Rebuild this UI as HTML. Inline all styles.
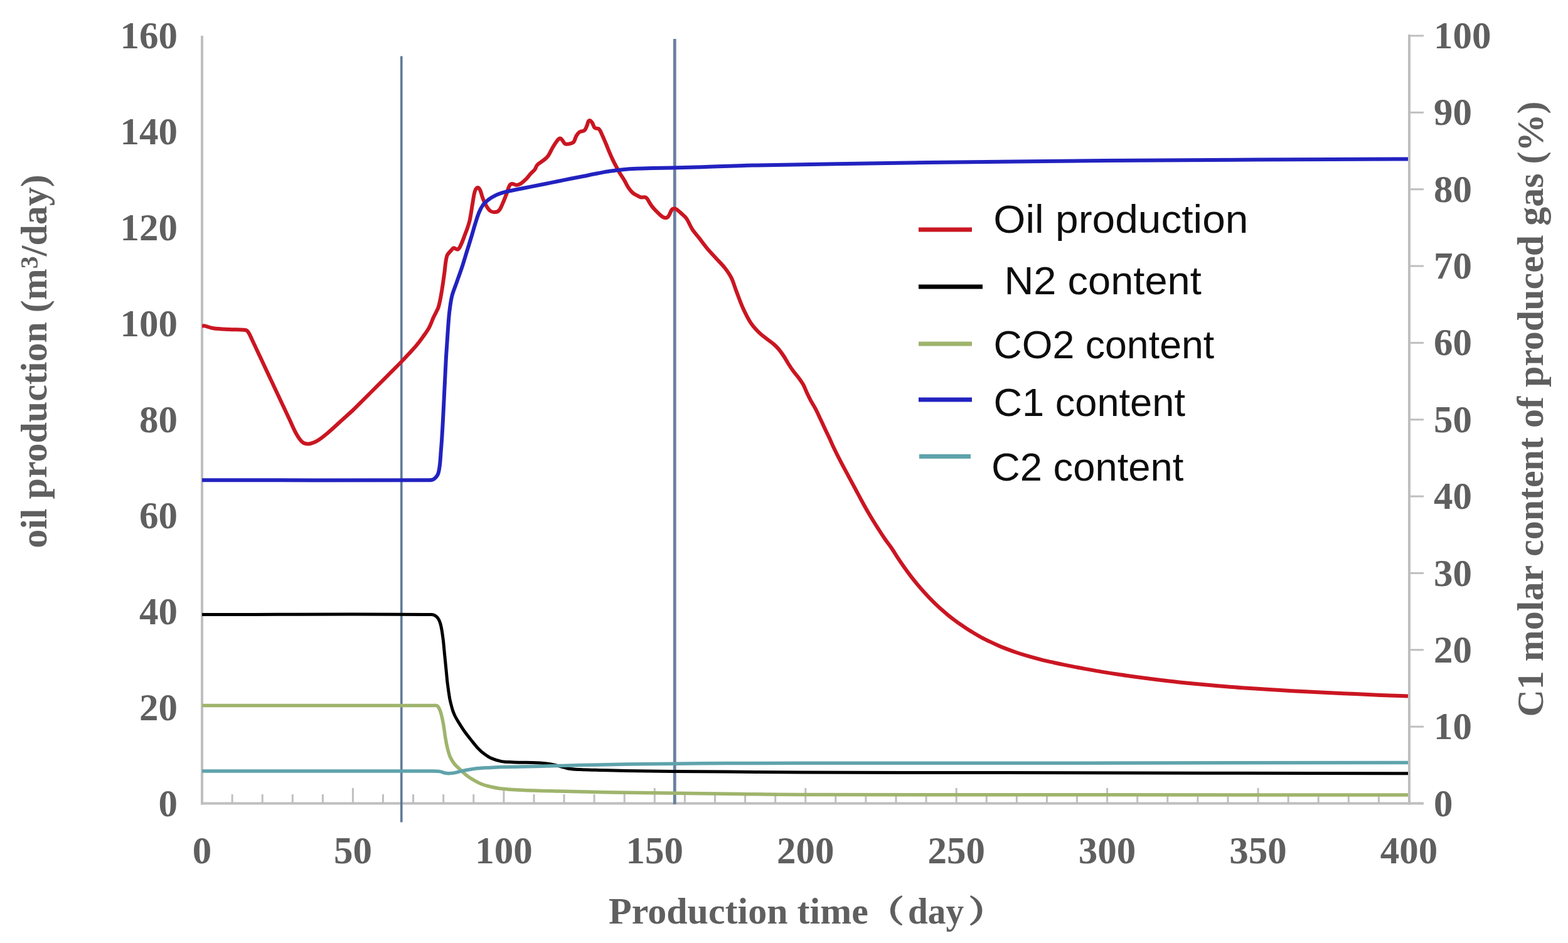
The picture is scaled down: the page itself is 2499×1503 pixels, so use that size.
<!DOCTYPE html>
<html><head><meta charset="utf-8"><title>Production chart</title>
<style>
html,body{margin:0;padding:0;background:#fff;}
svg{display:block;}
.t{font-family:"Liberation Serif","Noto Serif CJK SC",serif;font-weight:bold;fill:#5e5e5e;}
.lg{font-family:"Liberation Sans","DejaVu Sans",sans-serif;fill:#111;}
</style></head><body>
<svg width="2499" height="1503" viewBox="0 0 2499 1503">
<defs><filter id="soft" x="0" y="0" width="2499" height="1503" filterUnits="userSpaceOnUse"><feGaussianBlur stdDeviation="0.6"/></filter></defs>
<rect width="2499" height="1503" fill="#fff"/>
<g filter="url(#soft)">

<g stroke="#bfbfbf" stroke-width="4" fill="none">
<line x1="322" y1="57" x2="322" y2="1282.5"/>
<line x1="320" y1="1280.5" x2="2269" y2="1280.5"/>
<line x1="2246" y1="55" x2="2246" y2="1282.5"/>
</g>
<g stroke="#bfbfbf" stroke-width="3">
<line x1="370.1" y1="1266" x2="370.1" y2="1280"/>
<line x1="418.2" y1="1266" x2="418.2" y2="1280"/>
<line x1="466.3" y1="1266" x2="466.3" y2="1280"/>
<line x1="514.4" y1="1266" x2="514.4" y2="1280"/>
<line x1="562.4" y1="1256" x2="562.4" y2="1280"/>
<line x1="610.5" y1="1266" x2="610.5" y2="1280"/>
<line x1="658.6" y1="1266" x2="658.6" y2="1280"/>
<line x1="706.7" y1="1266" x2="706.7" y2="1280"/>
<line x1="754.8" y1="1266" x2="754.8" y2="1280"/>
<line x1="802.9" y1="1256" x2="802.9" y2="1280"/>
<line x1="851.0" y1="1266" x2="851.0" y2="1280"/>
<line x1="899.0" y1="1266" x2="899.0" y2="1280"/>
<line x1="947.1" y1="1266" x2="947.1" y2="1280"/>
<line x1="995.2" y1="1266" x2="995.2" y2="1280"/>
<line x1="1043.3" y1="1256" x2="1043.3" y2="1280"/>
<line x1="1091.4" y1="1266" x2="1091.4" y2="1280"/>
<line x1="1139.5" y1="1266" x2="1139.5" y2="1280"/>
<line x1="1187.6" y1="1266" x2="1187.6" y2="1280"/>
<line x1="1235.7" y1="1266" x2="1235.7" y2="1280"/>
<line x1="1283.8" y1="1256" x2="1283.8" y2="1280"/>
<line x1="1331.8" y1="1266" x2="1331.8" y2="1280"/>
<line x1="1379.9" y1="1266" x2="1379.9" y2="1280"/>
<line x1="1428.0" y1="1266" x2="1428.0" y2="1280"/>
<line x1="1476.1" y1="1266" x2="1476.1" y2="1280"/>
<line x1="1524.2" y1="1256" x2="1524.2" y2="1280"/>
<line x1="1572.3" y1="1266" x2="1572.3" y2="1280"/>
<line x1="1620.4" y1="1266" x2="1620.4" y2="1280"/>
<line x1="1668.5" y1="1266" x2="1668.5" y2="1280"/>
<line x1="1716.5" y1="1266" x2="1716.5" y2="1280"/>
<line x1="1764.6" y1="1256" x2="1764.6" y2="1280"/>
<line x1="1812.7" y1="1266" x2="1812.7" y2="1280"/>
<line x1="1860.8" y1="1266" x2="1860.8" y2="1280"/>
<line x1="1908.9" y1="1266" x2="1908.9" y2="1280"/>
<line x1="1957.0" y1="1266" x2="1957.0" y2="1280"/>
<line x1="2005.1" y1="1256" x2="2005.1" y2="1280"/>
<line x1="2053.2" y1="1266" x2="2053.2" y2="1280"/>
<line x1="2101.2" y1="1266" x2="2101.2" y2="1280"/>
<line x1="2149.3" y1="1266" x2="2149.3" y2="1280"/>
<line x1="2197.4" y1="1266" x2="2197.4" y2="1280"/>
<line x1="2246" y1="1158.2" x2="2269" y2="1158.2"/>
<line x1="2246" y1="1035.8" x2="2269" y2="1035.8"/>
<line x1="2246" y1="913.5" x2="2269" y2="913.5"/>
<line x1="2246" y1="791.1" x2="2269" y2="791.1"/>
<line x1="2246" y1="668.8" x2="2269" y2="668.8"/>
<line x1="2246" y1="546.4" x2="2269" y2="546.4"/>
<line x1="2246" y1="424.0" x2="2269" y2="424.0"/>
<line x1="2246" y1="301.7" x2="2269" y2="301.7"/>
<line x1="2246" y1="179.3" x2="2269" y2="179.3"/>
<line x1="2246" y1="57.0" x2="2269" y2="57.0"/>
</g>
<rect x="638" y="89.5" width="3.6" height="1221" fill="#5f7899"/>
<rect x="1072.9" y="62" width="4.8" height="1220" fill="#6a81a1"/>
<path d="M322.0,519.5 C323.4,519.5 324.8,519.1 326.1,519.4 C330.9,520.4 335.4,522.6 340.2,523.3 C348.4,524.5 356.7,524.6 365.0,525.0 C372.7,525.4 380.3,525.3 388.0,525.8 C389.9,525.9 392.0,525.9 393.5,527.0 C395.4,528.3 396.4,530.5 397.5,532.5 C399.9,537.0 401.8,541.7 404.0,546.3 C406.3,551.3 408.7,556.2 411.0,561.2 C414.3,568.3 417.7,575.4 421.0,582.5 C424.4,589.7 427.8,597.0 431.2,604.2 C434.6,611.4 437.9,618.6 441.3,625.8 C444.7,633.0 448.0,640.1 451.4,647.3 C454.8,654.5 458.1,661.6 461.5,668.8 C464.9,675.9 467.7,683.3 471.6,690.2 C474.5,695.3 477.3,700.6 481.7,704.4 C484.4,706.7 488.3,707.7 491.8,707.4 C496.8,707.0 501.6,704.8 506.0,702.3 C511.8,699.0 516.9,694.5 522.1,690.2 C529.1,684.4 535.6,678.1 542.3,672.0 C549.0,665.9 555.9,660.0 562.5,653.8 C569.4,647.2 576.0,640.3 582.8,633.6 C589.5,626.9 596.3,620.1 603.0,613.4 C609.7,606.7 616.5,599.9 623.2,593.2 C628.6,587.8 634.0,582.5 639.3,577.0 C643.4,572.7 647.5,568.4 651.5,564.0 C655.6,559.6 659.8,555.3 663.6,550.7 C667.3,546.3 670.7,541.7 674.0,537.0 C677.4,532.2 681.0,527.6 683.8,522.4 C686.6,517.2 688.4,511.4 690.8,506.0 C693.4,500.3 697.0,495.0 698.9,489.0 C701.5,480.6 702.7,471.7 704.2,463.0 C705.8,453.7 706.9,444.3 708.3,435.0 C709.6,426.0 709.7,416.7 712.3,408.0 C713.4,404.4 716.7,401.9 719.1,399.0 C720.3,397.6 721.3,395.6 723.1,395.3 C725.4,395.0 727.8,398.5 729.9,397.4 C732.9,395.7 733.8,391.7 735.3,388.6 C737.4,384.2 738.9,379.6 740.6,375.1 C742.0,371.5 743.5,368.0 744.7,364.3 C746.2,359.9 747.7,355.5 748.7,350.9 C750.4,342.9 751.4,334.7 752.8,326.6 C754.1,319.4 754.7,312.0 756.8,305.0 C757.5,302.7 758.6,299.8 760.9,299.0 C762.5,298.5 764.1,300.8 764.9,302.3 C766.9,306.1 767.4,310.5 768.9,314.5 C770.5,318.6 772.1,322.8 774.3,326.6 C776.2,330.0 778.0,333.6 781.1,336.0 C783.3,337.7 786.4,338.3 789.2,338.1 C791.7,337.9 794.3,336.6 795.9,334.7 C798.5,331.6 799.7,327.6 801.3,323.9 C803.3,319.5 805.0,314.9 806.7,310.4 C808.6,305.5 809.6,300.2 812.1,295.6 C812.9,294.2 814.5,293.0 816.1,292.9 C818.5,292.7 820.5,294.9 822.9,294.9 C825.2,294.9 827.6,294.1 829.6,292.9 C832.6,291.1 835.2,288.7 837.7,286.2 C840.6,283.3 843.0,279.8 845.8,276.7 C847.9,274.4 850.6,272.5 852.5,270.0 C854.1,267.9 854.4,264.9 856.2,263.0 C859.3,259.8 863.6,257.8 867.0,254.9 C869.4,252.9 871.9,250.8 873.7,248.2 C876.4,244.4 878.0,240.0 880.4,236.0 C882.5,232.4 884.6,228.6 887.2,225.3 C888.7,223.4 890.2,220.9 892.6,220.5 C894.3,220.2 895.4,222.6 896.6,223.9 C898.1,225.6 898.6,228.3 900.6,229.3 C902.6,230.3 905.2,229.7 907.4,229.3 C909.8,228.8 912.5,228.4 914.1,226.6 C916.4,224.0 916.5,220.1 918.2,217.2 C919.7,214.7 921.2,212.1 923.6,210.4 C925.9,208.8 929.5,209.6 931.6,207.7 C933.9,205.7 934.4,202.3 935.7,199.6 C936.9,197.2 936.6,193.4 939.0,192.2 C940.8,191.3 942.6,194.0 943.8,195.6 C945.6,198.0 945.6,201.6 947.8,203.7 C949.5,205.3 952.9,204.0 954.6,205.7 C957.3,208.4 958.3,212.4 960.0,215.8 C961.9,219.8 963.6,223.9 965.3,228.0 C967.2,232.4 968.8,237.0 970.7,241.4 C972.4,245.5 974.2,249.6 976.1,253.6 C977.8,257.2 979.6,260.8 981.5,264.3 C983.7,268.4 985.8,272.5 988.2,276.5 C990.3,280.1 992.9,283.6 995.0,287.2 C997.4,291.2 999.1,295.5 1001.7,299.4 C1003.7,302.3 1005.9,305.1 1008.5,307.5 C1010.4,309.2 1012.9,310.3 1015.2,311.5 C1017.4,312.6 1019.6,314.0 1022.0,314.5 C1024.4,315.0 1027.3,313.3 1029.4,314.7 C1032.4,316.7 1033.5,320.6 1035.5,323.5 C1037.0,325.7 1038.3,328.0 1040.0,330.0 C1042.2,332.7 1044.5,335.3 1047.0,337.6 C1050.4,340.7 1053.5,344.5 1057.7,346.4 C1059.8,347.4 1062.8,347.3 1064.5,345.7 C1067.8,342.5 1068.0,337.0 1071.2,333.6 C1072.4,332.3 1075.0,332.1 1076.6,332.9 C1080.7,334.9 1083.9,338.5 1087.4,341.6 C1089.8,343.7 1092.3,345.8 1094.1,348.4 C1097.8,353.9 1100.0,360.3 1103.6,365.9 C1106.7,370.7 1110.8,374.9 1114.3,379.4 C1118.8,385.2 1123.1,391.2 1127.8,396.9 C1132.1,402.0 1136.8,406.8 1141.3,411.7 C1145.8,416.6 1150.7,421.2 1154.8,426.5 C1158.8,431.6 1162.6,436.9 1165.5,442.7 C1168.7,448.9 1170.4,455.8 1172.9,462.3 C1176.7,472.1 1180.0,482.0 1184.3,491.5 C1188.1,499.8 1192.1,508.1 1197.2,515.7 C1201.3,521.7 1206.4,527.0 1211.8,531.9 C1218.5,538.0 1226.3,542.8 1233.2,548.6 C1235.9,550.9 1238.5,553.5 1240.8,556.2 C1243.9,559.9 1246.7,563.9 1249.4,568.0 C1252.1,572.1 1254.3,576.4 1256.9,580.5 C1259.3,584.3 1261.8,588.1 1264.5,591.7 C1267.2,595.4 1270.4,598.8 1273.1,602.5 C1275.8,606.2 1278.4,609.8 1280.6,613.8 C1282.7,617.7 1284.1,622.0 1286.0,626.0 C1288.1,630.4 1290.2,634.8 1292.5,639.1 C1294.9,643.5 1297.7,647.7 1300.0,652.1 C1302.7,657.3 1305.1,662.7 1307.6,668.0 C1310.3,673.7 1312.8,679.3 1315.5,685.0 C1317.6,689.5 1319.9,694.0 1322.0,698.5 C1324.1,703.0 1325.9,707.6 1328.0,712.0 C1331.9,720.1 1336.0,728.2 1340.1,736.2 C1344.0,743.8 1348.2,751.3 1352.2,758.8 C1356.3,766.4 1360.3,773.9 1364.4,781.5 C1368.4,789.0 1372.4,796.6 1376.5,804.0 C1380.4,811.1 1384.4,818.1 1388.6,825.0 C1392.5,831.6 1396.7,838.0 1400.8,844.5 C1404.1,849.7 1407.5,854.9 1411.0,860.0 C1414.3,864.7 1418.0,869.2 1421.2,874.0 C1424.7,879.1 1427.8,884.5 1431.2,889.7 C1434.4,894.6 1437.8,899.5 1441.2,904.3 C1444.5,908.9 1447.8,913.4 1451.2,917.9 C1454.4,922.1 1457.8,926.3 1461.2,930.4 C1464.5,934.4 1467.8,938.3 1471.2,942.1 C1474.5,945.8 1477.8,949.4 1481.2,952.9 C1484.5,956.3 1487.8,959.6 1491.2,962.9 C1494.5,966.0 1497.8,969.1 1501.2,972.1 C1504.5,975.0 1507.8,977.8 1511.2,980.6 C1514.5,983.3 1517.8,985.9 1521.2,988.4 C1524.5,990.9 1527.8,993.3 1531.2,995.6 C1534.5,997.9 1537.8,1000.1 1541.2,1002.3 C1544.5,1004.4 1547.8,1006.5 1551.2,1008.5 C1554.5,1010.5 1557.8,1012.4 1561.2,1014.3 C1564.5,1016.1 1567.8,1017.9 1571.2,1019.6 C1574.5,1021.3 1577.8,1022.8 1581.2,1024.4 C1584.5,1025.9 1587.8,1027.4 1591.2,1028.9 C1594.1,1030.2 1597.0,1031.5 1600.0,1032.6 C1606.6,1035.2 1613.3,1037.7 1620.0,1040.0 C1626.6,1042.2 1633.3,1044.3 1640.0,1046.2 C1646.6,1048.1 1653.3,1049.9 1660.0,1051.6 C1666.6,1053.3 1673.3,1054.7 1680.0,1056.2 C1686.7,1057.7 1693.3,1059.0 1700.0,1060.4 C1706.7,1061.7 1713.3,1063.0 1720.0,1064.3 C1726.7,1065.5 1733.3,1066.7 1740.0,1067.9 C1746.7,1069.1 1753.3,1070.3 1760.0,1071.4 C1766.7,1072.5 1773.3,1073.5 1780.0,1074.5 C1786.7,1075.5 1793.3,1076.6 1800.0,1077.5 C1813.3,1079.3 1826.7,1081.1 1840.0,1082.8 C1853.3,1084.4 1866.7,1086.0 1880.0,1087.4 C1893.3,1088.8 1906.7,1090.1 1920.0,1091.3 C1933.3,1092.5 1946.7,1093.6 1960.0,1094.7 C1973.3,1095.7 1986.7,1096.7 2000.0,1097.6 C2013.3,1098.5 2026.7,1099.3 2040.0,1100.1 C2053.3,1100.9 2066.7,1101.6 2080.0,1102.3 C2093.3,1103.0 2106.7,1103.7 2120.0,1104.3 C2133.3,1104.9 2146.7,1105.5 2160.0,1106.1 C2173.3,1106.7 2186.7,1107.3 2200.0,1107.9 C2214.7,1108.5 2229.3,1109.0 2244.0,1109.6" fill="none" stroke="#ca1420" stroke-width="6" stroke-linejoin="round" stroke-linecap="butt"/>
<path d="M322.0,979.6 C443.7,979.6 565.5,978.3 687.2,979.6 C690.6,979.6 694.2,981.3 696.6,983.7 C699.4,986.6 700.9,990.6 702.0,994.5 C704.1,1002.0 705.0,1009.7 706.0,1017.4 C707.2,1026.3 707.8,1035.3 708.7,1044.3 C709.6,1053.3 710.5,1062.3 711.4,1071.3 C712.0,1077.5 712.5,1083.8 713.3,1090.0 C714.2,1097.2 715.2,1104.4 716.4,1111.6 C717.0,1115.3 717.9,1118.9 718.8,1122.5 C719.7,1126.1 720.6,1129.6 721.8,1133.1 C722.9,1136.3 724.3,1139.5 725.8,1142.5 C727.2,1145.2 728.8,1147.8 730.4,1150.4 C733.6,1155.5 736.7,1160.6 740.1,1165.5 C743.5,1170.3 747.2,1174.9 750.9,1179.5 C754.4,1183.9 757.7,1188.4 761.6,1192.4 C764.9,1195.9 768.5,1199.2 772.4,1202.1 C775.8,1204.6 779.3,1207.0 783.2,1208.6 C788.4,1210.8 793.8,1212.5 799.4,1213.6 C804.7,1214.6 810.1,1214.5 815.5,1214.8 C820.3,1215.1 825.2,1215.1 830.0,1215.2 C838.3,1215.4 846.7,1215.4 855.0,1215.8 C861.7,1216.1 868.4,1216.5 875.0,1217.5 C881.1,1218.4 887.0,1220.0 893.0,1221.5 C897.7,1222.6 902.2,1224.5 907.0,1225.3 C912.9,1226.2 919.0,1226.3 925.0,1226.6 C933.0,1227.0 941.0,1227.1 949.0,1227.3 C965.2,1227.7 981.4,1228.3 997.6,1228.6 C1023.4,1229.1 1049.2,1229.3 1075.0,1229.5 C1103.3,1229.7 1131.7,1229.8 1160.0,1230.0 C1200.0,1230.3 1240.0,1230.9 1280.0,1231.0 C1386.7,1231.4 1493.3,1231.4 1600.0,1231.6 C1814.7,1232.0 2029.3,1232.4 2244.0,1232.8" fill="none" stroke="#000000" stroke-width="5" stroke-linejoin="round" stroke-linecap="butt"/>
<path d="M322.0,1124.5 C444.7,1124.5 567.3,1124.3 690.0,1124.5 C692.3,1124.5 695.2,1123.7 697.0,1125.2 C699.9,1127.7 701.1,1131.7 702.3,1135.3 C704.4,1141.6 705.5,1148.2 706.7,1154.7 C708.0,1161.9 708.7,1169.1 709.9,1176.3 C710.8,1181.7 711.8,1187.1 713.1,1192.4 C714.3,1197.1 715.5,1201.9 717.4,1206.4 C719.1,1210.3 721.3,1213.9 723.9,1217.2 C726.4,1220.4 729.6,1223.0 732.5,1225.8 C736.0,1229.1 739.5,1232.6 743.3,1235.6 C747.4,1238.8 751.8,1241.6 756.3,1244.2 C759.7,1246.2 763.3,1248.0 767.0,1249.5 C770.6,1250.9 774.3,1252.1 778.0,1253.0 C784.9,1254.6 791.8,1256.2 798.8,1257.0 C809.4,1258.2 820.1,1258.7 830.8,1259.2 C850.5,1260.1 870.3,1260.5 890.0,1261.0 C920.0,1261.8 950.0,1262.5 980.0,1263.0 C1046.7,1264.0 1113.3,1264.7 1180.0,1265.5 C1213.3,1265.9 1246.7,1266.5 1280.0,1266.5 C1601.3,1267.0 1922.7,1266.8 2244.0,1267.0" fill="none" stroke="#9fb46c" stroke-width="5.5" stroke-linejoin="round" stroke-linecap="butt"/>
<path d="M322.0,765.3 C441.3,765.3 560.7,765.6 680.0,765.2 C683.6,765.2 687.8,766.0 690.8,764.0 C694.6,761.5 697.8,757.4 698.9,753.0 C701.9,741.3 701.8,729.0 702.9,717.0 C704.1,703.5 704.8,689.9 705.6,676.3 C706.6,658.3 707.4,640.4 708.3,622.4 C709.2,604.5 710.0,586.5 711.0,568.6 C711.8,555.1 712.7,541.6 713.7,528.1 C714.5,517.3 715.1,506.5 716.4,495.8 C717.4,487.7 718.4,479.5 720.4,471.6 C722.1,464.6 725.1,457.9 727.5,451.0 C730.5,442.3 733.7,433.7 736.6,425.0 C739.4,416.4 741.9,407.7 744.6,399.0 C746.9,391.7 749.2,384.3 751.4,377.0 C753.3,370.8 754.9,364.6 756.8,358.5 C758.9,351.8 760.8,345.0 763.5,338.5 C765.2,334.3 767.2,330.3 769.8,326.6 C771.8,323.9 774.4,321.7 777.0,319.5 C779.2,317.6 781.5,316.0 784.0,314.5 C787.2,312.6 790.5,310.9 794.0,309.5 C797.7,308.0 801.5,306.8 805.3,305.8 C812.1,304.1 819.1,302.9 826.0,301.5 C833.0,300.1 840.0,298.8 847.0,297.4 C854.0,296.0 861.0,294.6 868.0,293.2 C875.0,291.8 881.9,290.4 888.9,289.0 C895.8,287.6 902.8,286.2 909.7,284.8 C916.7,283.4 923.6,282.1 930.6,280.7 C937.6,279.3 944.5,277.8 951.5,276.5 C958.5,275.2 965.4,273.8 972.4,272.8 C979.2,271.8 986.1,271.0 993.0,270.3 C1000.1,269.6 1007.1,269.1 1014.2,268.8 C1022.8,268.4 1031.4,268.2 1040.0,268.0 C1060.0,267.5 1080.0,267.3 1100.0,266.8 C1133.3,265.9 1166.7,264.3 1200.0,263.6 C1293.3,261.7 1386.7,260.3 1480.0,259.0 C1573.3,257.8 1666.7,256.9 1760.0,256.1 C1840.0,255.4 1920.0,254.9 2000.0,254.5 C2081.3,254.1 2162.7,253.8 2244.0,253.5" fill="none" stroke="#2222c0" stroke-width="6" stroke-linejoin="round" stroke-linecap="butt"/>
<path d="M322.0,1229.0 C444.7,1229.0 567.3,1228.8 690.0,1229.0 C693.7,1229.0 697.4,1229.0 701.0,1229.6 C703.8,1230.0 706.3,1231.5 709.0,1232.0 C711.6,1232.5 714.3,1232.7 717.0,1232.6 C719.7,1232.5 722.4,1232.1 725.0,1231.6 C728.3,1231.0 731.4,1229.8 734.7,1229.1 C741.9,1227.7 749.0,1226.2 756.3,1225.3 C763.4,1224.4 770.6,1224.1 777.8,1223.7 C785.0,1223.2 792.2,1222.8 799.4,1222.6 C809.6,1222.3 819.8,1222.3 830.0,1222.1 C846.7,1221.7 863.3,1221.3 880.0,1220.8 C895.0,1220.4 910.0,1219.9 925.0,1219.5 C950.0,1218.9 975.0,1218.4 1000.0,1218.0 C1025.0,1217.6 1050.0,1217.4 1075.0,1217.2 C1103.3,1216.9 1131.7,1216.6 1160.0,1216.5 C1200.0,1216.3 1240.0,1216.2 1280.0,1216.2 C1393.3,1216.2 1506.7,1216.4 1620.0,1216.3 C1828.0,1216.1 2036.0,1215.8 2244.0,1215.5" fill="none" stroke="#5ea3ac" stroke-width="5.5" stroke-linejoin="round" stroke-linecap="butt"/>
<text class="t" x="283" y="1300.5" text-anchor="end" font-size="61">0</text>
<text class="t" x="283" y="1147.6" text-anchor="end" font-size="61">20</text>
<text class="t" x="283" y="994.6" text-anchor="end" font-size="61">40</text>
<text class="t" x="283" y="841.7" text-anchor="end" font-size="61">60</text>
<text class="t" x="283" y="688.8" text-anchor="end" font-size="61">80</text>
<text class="t" x="283" y="535.8" text-anchor="end" font-size="61">100</text>
<text class="t" x="283" y="382.9" text-anchor="end" font-size="61">120</text>
<text class="t" x="283" y="229.9" text-anchor="end" font-size="61">140</text>
<text class="t" x="283" y="77.0" text-anchor="end" font-size="61">160</text>
<text class="t" x="2285" y="1300.5" font-size="61">0</text>
<text class="t" x="2285" y="1178.2" font-size="61">10</text>
<text class="t" x="2285" y="1055.8" font-size="61">20</text>
<text class="t" x="2285" y="933.5" font-size="61">30</text>
<text class="t" x="2285" y="811.1" font-size="61">40</text>
<text class="t" x="2285" y="688.8" font-size="61">50</text>
<text class="t" x="2285" y="566.4" font-size="61">60</text>
<text class="t" x="2285" y="444.0" font-size="61">70</text>
<text class="t" x="2285" y="321.7" font-size="61">80</text>
<text class="t" x="2285" y="199.3" font-size="61">90</text>
<text class="t" x="2285" y="77.0" font-size="61">100</text>
<text class="t" x="322.0" y="1376" text-anchor="middle" font-size="61">0</text>
<text class="t" x="562.4" y="1376" text-anchor="middle" font-size="61">50</text>
<text class="t" x="802.9" y="1376" text-anchor="middle" font-size="61">100</text>
<text class="t" x="1043.3" y="1376" text-anchor="middle" font-size="61">150</text>
<text class="t" x="1283.8" y="1376" text-anchor="middle" font-size="61">200</text>
<text class="t" x="1524.2" y="1376" text-anchor="middle" font-size="61">250</text>
<text class="t" x="1764.6" y="1376" text-anchor="middle" font-size="61">300</text>
<text class="t" x="2005.1" y="1376" text-anchor="middle" font-size="61">350</text>
<text class="t" x="2245.5" y="1376" text-anchor="middle" font-size="61">400</text>
<text class="t" x="970" y="1472" font-size="60">Production time</text>
<text class="t" transform="translate(1382,1470) scale(1.2,1)" font-size="49" stroke="#5e5e5e" stroke-width="1.4">（</text>
<text class="t" x="1447" y="1472" font-size="60" textLength="89" lengthAdjust="spacingAndGlyphs">day</text>
<text class="t" transform="translate(1543.4,1470) scale(1.2,1)" font-size="49" stroke="#5e5e5e" stroke-width="1.4">）</text>
<text class="t" transform="translate(74,576) rotate(-90)" text-anchor="middle" font-size="60">oil production (m<tspan dy="-14" font-size="40">3</tspan><tspan dy="14">/day)</tspan></text>
<text class="t" transform="translate(2459,652) rotate(-90)" text-anchor="middle" font-size="60">C1 molar content of produced gas (%)</text>
<line x1="1464" y1="366.0" x2="1549" y2="366.0" stroke="#ca1420" stroke-width="7"/>
<text class="lg" transform="translate(1583.3,371) scale(1.045,1)" font-size="63">Oil production</text>
<line x1="1464" y1="457.0" x2="1566" y2="457.0" stroke="#000000" stroke-width="7"/>
<text class="lg" transform="translate(1600.4,469) scale(1.032,1)" font-size="63">N2 content</text>
<line x1="1464" y1="548.0" x2="1549" y2="548.0" stroke="#9fb46c" stroke-width="7"/>
<text class="lg" transform="translate(1583.4,571) scale(0.995,1)" font-size="63">CO2 content</text>
<line x1="1464" y1="637.0" x2="1549" y2="637.0" stroke="#2222c0" stroke-width="7"/>
<text class="lg" transform="translate(1583.4,663) scale(1.003,1)" font-size="63">C1 content</text>
<line x1="1465" y1="727.5" x2="1547" y2="727.5" stroke="#5ea3ac" stroke-width="7"/>
<text class="lg" transform="translate(1580.0,766) scale(1.006,1)" font-size="63">C2 content</text>
</g>
</svg>
</body></html>
